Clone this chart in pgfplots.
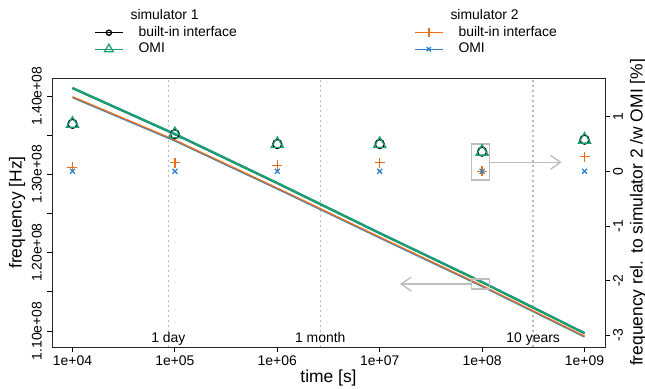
\documentclass[border=0pt]{standalone}
\usepackage{fontspec}
\setmainfont{Liberation Sans}
\usepackage{pgfplots}
\pgfplotsset{compat=1.18}
\usetikzlibrary{arrows.meta}
\definecolor{cgreen}{HTML}{1B9E77}
\definecolor{corange}{RGB}{235,110,20}
\definecolor{cblue}{RGB}{50,130,200}
\definecolor{cgrey}{RGB}{190,190,190}
\definecolor{cgrid}{RGB}{185,185,185}
\pgfplotsset{
  legend image code/.code={\draw[mark repeat=2,mark phase=2,#1] plot coordinates {(0bp,0bp) (14bp,0bp) (28bp,0bp)};},
}
\begin{document}
\begin{tikzpicture}
\useasboundingbox (0,0) rectangle (645bp,389bp);
% ---------------- left axis: frequency lines ----------------
\begin{axis}[
  at={(52bp,42bp)}, anchor=south west,
  scale only axis, width=553bp, height=269bp,
  xmode=log, xmin=6309.57, xmax=1.58489e9,
  ymin=1.07957e8, ymax=1.42299e8, scaled y ticks=false,
  xminorticks=false,
  tick align=outside, major tick length=5bp,
  tick style={black, line width=0.8bp},
  axis line style={line width=0.8bp, black!85},
  xtick pos=bottom, ytick pos=left,
  xtick={1e4,1e5,1e6,1e7,1e8,1e9},
  xticklabels={1e+04,1e+05,1e+06,1e+07,1e+08,1e+09},
  xticklabel style={font=\fontsize{14}{16}\selectfont, anchor=north, inner sep=0pt, yshift=-4bp},
  ytick={1.10e8,1.15e8,1.20e8,1.25e8,1.30e8,1.35e8,1.40e8},
  yticklabels={1.10e+08,,1.20e+08,,1.30e+08,,1.40e+08},
  yticklabel style={font=\fontsize{14}{16}\selectfont, inner sep=0pt, xshift=-5bp, rotate=90, anchor=south},
  xlabel={time [s]}, ylabel={frequency [Hz]},
  xlabel style={font=\fontsize{17.5}{20}\selectfont, at={(axis description cs:0.5,-0.1152)}, anchor=center},
  ylabel style={font=\fontsize{17.5}{20}\selectfont, at={(axis description cs:-0.0633,0.5)}, rotate=0, anchor=center},
  legend style={draw=none, fill=none, inner sep=0pt, anchor=north west,
      at={(axis description cs:0.0760,1.2546)},
      font=\fontsize{14}{16}\selectfont,
      nodes={inner sep=0pt, text height=10bp, text depth=3bp, anchor=west},
      row sep=3.5bp,
      /tikz/every odd column/.style={column sep=15bp}},
  legend cell align=left,
]
\addplot[forget plot, cgrid, line width=1.6bp, dash pattern=on 1.6bp off 3.4bp] coordinates {(86400,1.07957e8) (86400,1.42299e8)};
\addplot[forget plot, cgrid, line width=1.6bp, dash pattern=on 1.6bp off 3.4bp] coordinates {(2.6298e6,1.07957e8) (2.6298e6,1.42299e8)};
\addplot[forget plot, cgrid, line width=1.6bp, dash pattern=on 1.6bp off 3.4bp] coordinates {(3.15576e8,1.07957e8) (3.15576e8,1.42299e8)};
\node[font=\fontsize{14}{16}\selectfont, anchor=base] at (axis cs:86400,1.08582e8) {1 day};
\node[font=\fontsize{14}{16}\selectfont, anchor=base] at (axis cs:2.6298e6,1.08582e8) {1 month};
\node[font=\fontsize{14}{16}\selectfont, anchor=base] at (axis cs:3.15576e8,1.08582e8) {10 years};
\addplot[forget plot, cblue, line width=1.3bp] coordinates {(1e4,1.39791e8) (1e5,1.34261e8) (1e6,1.28130e8) (1e7,1.21872e8) (1e8,1.15678e8) (1e9,1.09229e8)};
\addplot[forget plot, corange, line width=1.3bp] coordinates {(1e4,1.39911e8) (1e5,1.34381e8) (1e6,1.28250e8) (1e7,1.21992e8) (1e8,1.15798e8) (1e9,1.09349e8)};
\addplot[forget plot, black, line width=1.6bp] coordinates {(1e4,1.40982e8) (1e5,1.35107e8) (1e6,1.28849e8) (1e7,1.22463e8) (1e8,1.16205e8) (1e9,1.09692e8)};
\addplot[forget plot, cgreen, line width=2.4bp] coordinates {(1e4,1.41022e8) (1e5,1.35147e8) (1e6,1.28889e8) (1e7,1.22503e8) (1e8,1.16245e8) (1e9,1.09732e8)};
\draw[cgrey, line width=1.2bp] (axis cs:7.93e7,1.16628e8) rectangle (axis cs:1.175e8,1.15351e8);
\draw[cgrey, line width=1.4bp, -{Straight Barb[length=10bp,width=14bp]}] (axis cs:7.93e7,1.1599e8) -- (axis cs:1.578e7,1.1599e8);
\addlegendimage{empty legend}
\addlegendentry{\hspace{-8bp}simulator 1}
\addlegendimage{black, line width=1.3bp, mark=o, mark size=2.6bp, mark options={line width=1.3bp}}
\addlegendentry{built-in interface}
\addlegendimage{cgreen, line width=1.3bp, mark=triangle, mark size=5bp, mark options={line width=1.3bp}}
\addlegendentry{OMI}
\end{axis}
% ---------------- right axis: relative frequency markers ----------------
\begin{axis}[
  at={(52bp,42bp)}, anchor=south west,
  scale only axis, width=553bp, height=269bp,
  xmode=log, xmin=6309.57, xmax=1.58489e9,
  ymin=-3.218, ymax=1.709,
  axis x line=none, axis y line*=right,
  tick align=outside, major tick length=5bp,
  tick style={black, line width=0.8bp},
  axis line style={line width=0.8bp, black!85},
  ytick={-3,-2,-1,0,1}, yticklabels={-3,-2,-1,0,1},
  yticklabel style={font=\fontsize{14}{16}\selectfont, inner sep=0pt, xshift=3bp, rotate=90, anchor=north},
  ylabel={frequency rel. to simulator 2 /w OMI [\%]},
  ylabel style={font=\fontsize{17.5}{20}\selectfont, at={(axis description cs:1.0597,0.5)}, rotate=0, anchor=center},
  legend style={draw=none, fill=none, inner sep=0pt, anchor=north west,
      at={(axis description cs:0.6546,1.2546)},
      font=\fontsize{14}{16}\selectfont,
      nodes={inner sep=0pt, text height=10bp, text depth=3bp, anchor=west},
      row sep=3.5bp,
      /tikz/every odd column/.style={column sep=15bp}},
  legend cell align=left,
]
\addplot[forget plot, only marks, black, mark=o, mark size=4.5bp, mark options={line width=1.3bp}] coordinates {(1e4,0.87) (1e5,0.68) (1e6,0.50) (1e7,0.50) (1e8,0.36) (1e9,0.58)};
\addplot[forget plot, only marks, cgreen, mark=triangle, mark size=7bp, mark options={line width=1.3bp}] coordinates {(1e4,0.87) (1e5,0.68) (1e6,0.50) (1e7,0.50) (1e8,0.36) (1e9,0.58)};
\addplot[forget plot, only marks, corange, mark=+, mark size=5bp, mark options={line width=1.3bp}] coordinates {(1e4,0.07) (1e5,0.16) (1e6,0.11) (1e7,0.16) (1e8,0.00) (1e9,0.27)};
\addplot[forget plot, only marks, cblue, mark=x, mark size=3.5bp, mark options={line width=1.3bp}] coordinates {(1e4,0) (1e5,0) (1e6,0) (1e7,0) (1e8,0) (1e9,0)};
\draw[cgrey, line width=1.2bp] (axis cs:7.93e7,0.5) rectangle (axis cs:1.175e8,-0.16);
\draw[cgrey, line width=1.4bp, -{Straight Barb[length=10bp,width=14bp]}] (axis cs:1.175e8,0.165) -- (axis cs:5.98e8,0.165);
\addlegendimage{empty legend}
\addlegendentry{\hspace{-8bp}simulator 2}
\addlegendimage{corange, line width=1.3bp, mark=+, mark size=4.5bp, mark options={line width=1.3bp}}
\addlegendentry{built-in interface}
\addlegendimage{cblue, line width=1.3bp, mark=x, mark size=3bp, mark options={line width=1.3bp}}
\addlegendentry{OMI}
\end{axis}
\end{tikzpicture}
\end{document}
